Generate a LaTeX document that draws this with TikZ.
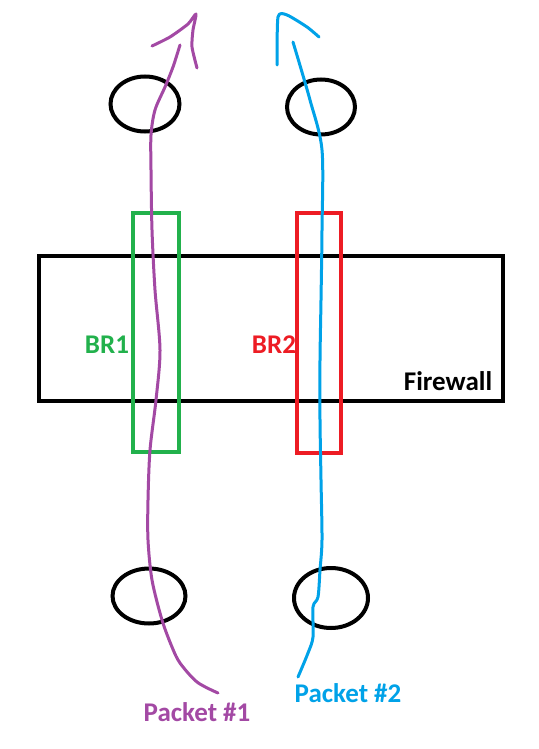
\documentclass[tikz,border=0pt]{standalone}
\usepackage{fontspec}
\setmainfont{Carlito}
\usetikzlibrary{shapes.geometric}
\definecolor{ppurple}{RGB}{163,73,164}
\definecolor{pblue}{RGB}{0,162,232}
\definecolor{pgreen}{RGB}{34,177,76}
\definecolor{pred}{RGB}{237,28,36}
\begin{document}
\begin{tikzpicture}[x=1pt,y=-1pt,
  hoop/.style={draw=black,line width=4pt,ellipse,inner sep=0pt},
  box/.style={draw,line width=4pt,rectangle,inner sep=0pt},
  lbl/.style={font=\fontsize{27}{27}\selectfont\bfseries,inner sep=0pt},
  trail/.style={line width=3pt,line cap=round,line join=round}]
\useasboundingbox[fill=white] (0,0) rectangle (538,749);
% firewall
\node[box,draw=black,minimum width=464pt,minimum height=145pt] (fw) at (271,328.5) {};
\node[lbl] (fwl) at (448,381) {Firewall};
% bridges
\node[box,draw=pgreen,minimum width=46pt,minimum height=239pt] (br1) at (156,332.5) {};
\node[box,draw=pred,minimum width=44pt,minimum height=240pt] (br2) at (319,333) {};
\node[lbl,text=pgreen] (br1l) at (107,345) {BR1};
\node[lbl,text=pred] (br2l) at (274,345) {BR2};
% hoops
\node[hoop,minimum width=69pt,minimum height=55pt] (t1) at (145,104) {};
\node[hoop,minimum width=68pt,minimum height=55pt] (t2) at (321,107) {};
\node[hoop,minimum width=73pt,minimum height=55pt] (b1) at (149,596) {};
\node[hoop,minimum width=74pt,minimum height=60pt] (b2) at (331,598) {};
% packet labels
\node[lbl,text=ppurple] (p1l) at (197,712) {Packet \#1};
\node[lbl,text=pblue] (p2l) at (348,693) {Packet \#2};
% purple trail
\draw[trail,ppurple] plot[smooth,tension=0.5] coordinates {
 (218,693) (197,682) (180,663) (172,647) (162,620) (152,580) (148,540)
 (148,500) (150,450) (156,400) (160,350) (155,290) (152,230) (151,170)
 (151,135) (155,110) (165,87) (173,67) (180,45)};
\draw[trail,ppurple] plot[smooth,tension=0.4] coordinates {
 (152,46) (170,37) (188,24) (196,14) (193,30) (192,47) (197,68)};
% blue trail
\draw[trail,pblue] plot[smooth,tension=0.5] coordinates {
 (298,677) (308,653) (313,637) (313,607) (318,597) (320,570) (322,540)
 (321,480) (320,420) (320,360) (321,300) (322,230) (322,150) (310,100) (293,42)};
\draw[trail,pblue] plot[smooth,tension=0.4] coordinates {
 (277,65) (278,17) (287,15) (307,27) (319,37)};
\end{tikzpicture}
\end{document}
